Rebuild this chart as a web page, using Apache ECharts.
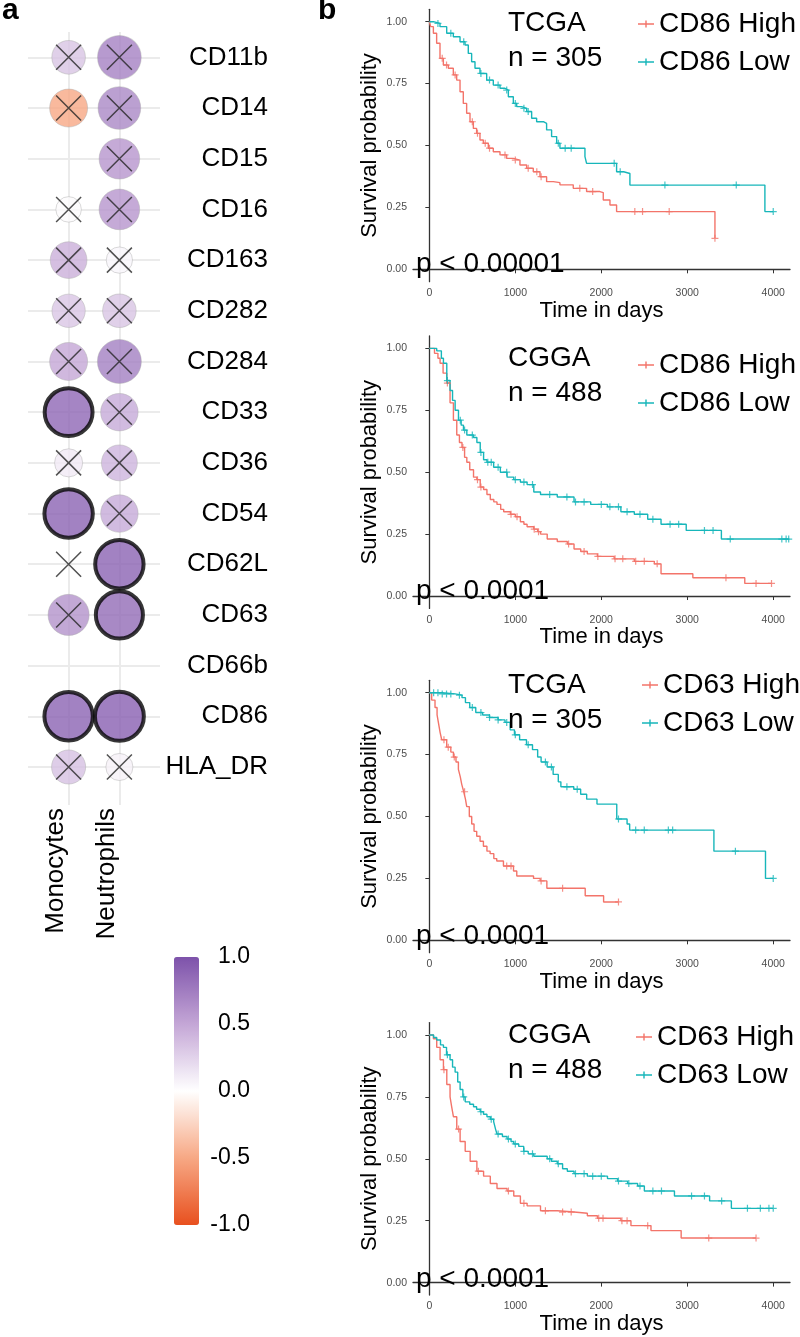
<!DOCTYPE html>
<html>
<head>
<meta charset="utf-8">
<script src="https://cdn.jsdelivr.net/npm/echarts@6/dist/echarts.min.js"></script>
<style>
html,body{margin:0;padding:0;background:#fff;}
#chart{width:800px;height:1337px;}
</style>
</head>
<body>
<div id="chart"></div>
<script>
// ---------------- DATA ----------------
const genes = ['CD11b','CD14','CD15','CD16','CD163','CD282','CD284','CD33','CD36','CD54','CD62L','CD63','CD66b','CD86','HLA_DR'];
const cells = ['Monocytes','Neutrophils'];
// correlation (null = no circle)
const monoCorr = [0.33,-0.5,null,0.02,0.45,0.32,0.5,0.88,0.12,0.9,null,0.62,null,0.9,0.35];
const neuCorr  = [0.72,0.68,0.6,0.6,0.05,0.33,0.73,0.48,0.42,0.48,0.9,0.85,null,0.92,0.08];
// significance: 1 = significant (bold ring), 0 = not significant (cross), null = not tested
const monoSig = [0,0,null,0,0,0,0,1,0,1,0,0,null,1,0];
const neuSig  = [0,0,0,0,0,0,0,0,0,0,1,1,null,1,0];
const colorbarTicks = [-1,-0.5,0,0.5,1];

const timeTicks = [0,1000,2000,3000,4000];
const probTicks = [0,0.25,0.5,0.75,1];
const cohortLabels = ['TCGA\nn = 305','CGGA\nn = 488','TCGA\nn = 305','CGGA\nn = 488'];
const pLabels = ['p < 0.00001','p < 0.0001','p < 0.0001','p < 0.0001'];
const groupNames = [['CD86 High','CD86 Low'],['CD86 High','CD86 Low'],['CD63 High','CD63 Low'],['CD63 High','CD63 Low']];

// Panel 1: TCGA CD86
const tcga86High = [[0,1],[16,0.98],[47,0.953],[85,0.913],[124,0.852],[163,0.825],[221,0.812],[279,0.785],[318,0.764],[357,0.717],[395,0.67],[434,0.63],[473,0.596],[512,0.569],[550,0.549],[589,0.522],[628,0.509],[686,0.489],[744,0.475],[822,0.462],[899,0.448],[977,0.441],[1054,0.421],[1132,0.408],[1209,0.394],[1287,0.374],[1364,0.354],[1442,0.35],[1519,0.341],[1674,0.327],[1829,0.314],[1984,0.31],[2023,0.28],[2101,0.26],[2178,0.233],[3322,0.125]];
const tcga86Low = [[0,1],[47,0.993],[124,0.98],[202,0.953],[279,0.939],[357,0.919],[415,0.906],[453,0.872],[492,0.838],[531,0.812],[589,0.791],[667,0.764],[744,0.744],[822,0.731],[880,0.724],[919,0.697],[977,0.67],[1016,0.657],[1074,0.65],[1132,0.637],[1190,0.61],[1248,0.596],[1326,0.589],[1364,0.563],[1422,0.536],[1481,0.509],[1519,0.489],[1810,0.455],[1829,0.428],[2178,0.394],[2260,0.387],[2333,0.34],[3903,0.233],[4000,0.233]];
const tcga86HighCens = [[150,0.852],[200,0.825],[300,0.785],[500,0.596],[560,0.549],[650,0.509],[700,0.489],[880,0.462],[1000,0.441],[1150,0.408],[1250,0.394],[1300,0.374],[1750,0.327],[1900,0.314],[2390,0.233],[2480,0.233],[2790,0.233],[3322,0.125]];
const tcga86LowCens = [[100,0.993],[250,0.953],[400,0.919],[600,0.791],[700,0.764],[800,0.744],[900,0.724],[1000,0.67],[1100,0.65],[1150,0.637],[1500,0.509],[1580,0.489],[1650,0.489],[2150,0.428],[2220,0.394],[2740,0.34],[3570,0.34],[4000,0.233]];

// Panel 2: CGGA CD86
const cgga86High = [[0,1],[60,0.98],[100,0.96],[125,0.94],[160,0.90],[203,0.86],[241,0.78],[280,0.71],[319,0.65],[350,0.62],[380,0.60],[410,0.56],[436,0.54],[470,0.51],[514,0.48],[553,0.47],[592,0.44],[631,0.43],[670,0.41],[709,0.39],[750,0.38],[787,0.37],[830,0.35],[865,0.34],[943,0.33],[1000,0.32],[1059,0.30],[1100,0.29],[1137,0.28],[1215,0.27],[1260,0.26],[1293,0.25],[1371,0.23],[1488,0.22],[1605,0.21],[1683,0.19],[1761,0.18],[1838,0.17],[1955,0.16],[2150,0.15],[2384,0.14],[2617,0.13],[2695,0.09],[3065,0.074],[3669,0.051],[3980,0.051]];
const cgga86Low = [[0,1],[86,0.99],[140,0.96],[164,0.94],[203,0.87],[241,0.83],[270,0.79],[300,0.75],[339,0.71],[370,0.69],[397,0.67],[436,0.65],[514,0.64],[553,0.62],[592,0.58],[631,0.55],[670,0.54],[748,0.52],[826,0.50],[904,0.48],[982,0.47],[1059,0.46],[1137,0.45],[1215,0.42],[1293,0.41],[1488,0.40],[1683,0.38],[1877,0.37],[2072,0.36],[2228,0.34],[2384,0.33],[2540,0.31],[2695,0.29],[2988,0.265],[3397,0.23],[4180,0.23]];
const cgga86HighCens = [[210,0.86],[390,0.60],[560,0.47],[600,0.44],[950,0.33],[1020,0.32],[1220,0.27],[1270,0.26],[1620,0.21],[1800,0.18],[1960,0.16],[2160,0.15],[2250,0.15],[2400,0.14],[2500,0.14],[2650,0.13],[3450,0.074],[3800,0.051],[3980,0.051]];
const cgga86LowCens = [[210,0.87],[360,0.71],[410,0.67],[500,0.65],[600,0.58],[680,0.54],[720,0.54],[800,0.52],[900,0.50],[1000,0.47],[1100,0.46],[1200,0.45],[1400,0.41],[1600,0.40],[1700,0.38],[1800,0.38],[2000,0.37],[2100,0.36],[2200,0.36],[2300,0.34],[2450,0.33],[2600,0.31],[2800,0.29],[2900,0.29],[3200,0.265],[3300,0.265],[3500,0.23],[4100,0.23],[4150,0.23],[4180,0.23]];

// Panel 3: TCGA CD63
const tcga63High = [[0,1],[27,0.97],[66,0.94],[90,0.91],[105,0.88],[125,0.84],[144,0.81],[202,0.78],[250,0.76],[280,0.74],[310,0.72],[338,0.69],[360,0.66],[377,0.63],[400,0.60],[420,0.57],[435,0.54],[465,0.50],[493,0.47],[520,0.44],[551,0.42],[590,0.40],[629,0.38],[670,0.36],[707,0.35],[750,0.33],[784,0.32],[862,0.30],[979,0.28],[1017,0.26],[1212,0.25],[1289,0.24],[1367,0.21],[1813,0.18],[2027,0.155],[2200,0.155]];
const tcga63Low = [[0,1],[150,0.995],[300,0.99],[380,0.98],[420,0.96],[470,0.94],[540,0.92],[620,0.91],[700,0.90],[800,0.89],[880,0.88],[940,0.85],[990,0.83],[1050,0.81],[1130,0.79],[1200,0.77],[1260,0.74],[1300,0.72],[1370,0.70],[1440,0.67],[1500,0.64],[1530,0.62],[1680,0.61],[1760,0.59],[1830,0.57],[1950,0.55],[2180,0.49],[2300,0.47],[2330,0.445],[3310,0.36],[3910,0.25],[4000,0.25]];
const tcga63HighCens = [[170,0.81],[220,0.78],[290,0.74],[410,0.60],[900,0.30],[950,0.30],[1300,0.24],[1550,0.21],[2200,0.155]];
const tcga63LowCens = [[50,1],[100,1],[150,0.995],[200,0.995],[250,0.995],[350,0.99],[500,0.94],[600,0.92],[700,0.90],[800,0.89],[900,0.88],[1000,0.83],[1150,0.79],[1350,0.72],[1420,0.70],[1600,0.62],[1720,0.61],[2200,0.49],[2400,0.445],[2500,0.445],[2780,0.445],[2830,0.445],[3560,0.36],[4000,0.25]];

// Panel 4: CGGA CD63
const cgga63High = [[0,1],[47,0.985],[86,0.95],[125,0.90],[164,0.86],[203,0.80],[241,0.75],[260,0.71],[280,0.67],[319,0.62],[358,0.57],[417,0.53],[475,0.49],[553,0.45],[631,0.43],[709,0.40],[787,0.38],[904,0.37],[982,0.35],[1059,0.32],[1137,0.31],[1293,0.29],[1488,0.285],[1683,0.28],[1838,0.27],[1955,0.26],[2228,0.25],[2345,0.23],[2578,0.21],[2929,0.18],[3800,0.18]];
const cgga63Low = [[0,1],[50,0.99],[86,0.98],[130,0.96],[164,0.95],[200,0.92],[241,0.90],[270,0.87],[300,0.85],[330,0.81],[358,0.78],[390,0.75],[417,0.73],[470,0.72],[514,0.71],[550,0.70],[592,0.69],[630,0.68],[670,0.67],[710,0.66],[748,0.65],[770,0.62],[787,0.60],[850,0.59],[904,0.58],[950,0.57],[982,0.56],[1040,0.55],[1098,0.53],[1150,0.52],[1215,0.51],[1371,0.50],[1420,0.49],[1488,0.48],[1550,0.46],[1605,0.45],[1683,0.44],[1838,0.43],[2072,0.42],[2189,0.41],[2306,0.40],[2423,0.39],[2501,0.37],[2851,0.35],[3260,0.33],[3513,0.30],[4000,0.30]];
const cgga63HighCens = [[170,0.86],[340,0.62],[570,0.45],[920,0.37],[1100,0.32],[1350,0.29],[1550,0.285],[1650,0.285],[1970,0.26],[2020,0.26],[2240,0.25],[2300,0.25],[2540,0.23],[3250,0.18],[3800,0.18]];
const cgga63LowCens = [[210,0.92],[400,0.75],[600,0.69],[720,0.66],[800,0.60],[920,0.58],[1000,0.56],[1100,0.53],[1200,0.52],[1400,0.50],[1500,0.48],[1700,0.44],[1800,0.44],[1900,0.43],[2000,0.43],[2200,0.41],[2320,0.40],[2450,0.39],[2600,0.37],[2700,0.37],[3050,0.35],[3200,0.35],[3400,0.33],[3700,0.30],[3850,0.30],[3950,0.30],[4000,0.30]];

// ---------------- BUILD ----------------
const FONT = "'Liberation Sans', Arial, Helvetica, sans-serif";
const RED = '#F3746A', TEAL = '#17B6BA';
const curves = [
  [tcga86High, tcga86Low, tcga86HighCens, tcga86LowCens],
  [cgga86High, cgga86Low, cgga86HighCens, cgga86LowCens],
  [tcga63High, tcga63Low, tcga63HighCens, tcga63LowCens],
  [cgga63High, cgga63Low, cgga63HighCens, cgga63LowCens]
];
const kmTops = [9.3, 336, 680.3, 1022.6];
const kmH = 272.4;
const titleTops = [6, 341, 668, 1018];
const pTops = [250, 577, 922, 1265];
const legendTops = [9, 350, 670, 1022];
const legendLefts = [638, 638, 642, 636];

const corrs = [monoCorr, neuCorr];
const sigs = [monoSig, neuSig];
const circleData = [], crossData = [];
cells.forEach((c, ci) => {
  genes.forEach((g, gi) => {
    const r = corrs[ci][gi], s = sigs[ci][gi];
    if (r !== null) {
      circleData.push({
        value: [ci + 1, gi, r],
        symbolSize: 25 + 26 * Math.abs(r),
        itemStyle: s === 1 ? {borderColor: '#050505', borderWidth: 4} : {borderColor: 'rgba(170,170,170,0.55)', borderWidth: 1}
      });
    }
    if (s === 0) crossData.push([ci + 1, gi]);
  });
});

const grids = [{left: 28, width: 132, top: 32, height: 773}];
const xAxes = [{
  gridIndex: 0, type: 'value', min: 0.2, max: 2.8,
  axisLine: {show: false}, axisTick: {show: false}, splitLine: {show: false},
  axisLabel: {customValues: cells.map((c, i) => i + 1), formatter: v => cells[Math.round(v) - 1], rotate: 90,
    fontSize: 26, color: '#000', fontFamily: FONT, margin: 3, verticalAlign: 'bottom'}
}];
const yAxes = [{
  gridIndex: 0, type: 'value', inverse: true, min: -0.5, max: 14.75, position: 'right',
  axisLine: {show: false}, axisTick: {show: false}, splitLine: {show: false},
  axisLabel: {customValues: genes.map((g, i) => i), formatter: v => genes[Math.round(v)],
    fontSize: 26, color: '#000', fontFamily: FONT, align: 'right', margin: 108}
}];

const series = [
  {type: 'scatter', xAxisIndex: 0, yAxisIndex: 0, data: [], z: 1, silent: true,
   markLine: {silent: true, symbol: 'none', animation: false, label: {show: false},
     lineStyle: {color: '#ebebeb', width: 2, type: 'solid'},
     data: genes.map((g, i) => ({yAxis: i})).concat(cells.map((c, i) => ({xAxis: i + 1})))}},
  {type: 'scatter', xAxisIndex: 0, yAxisIndex: 0, data: circleData, zlevel: 1, z: 2, silent: true},
  {type: 'scatter', xAxisIndex: 0, yAxisIndex: 0, data: crossData, zlevel: 1, z: 3, silent: true,
   symbol: 'path://M0,0 L10,10 M10,0 L0,10', symbolSize: 25,
   itemStyle: {color: 'rgba(0,0,0,0)', borderColor: '#262626', borderWidth: 1.5}}
];

const plusIcon = 'path://M0,3.8 L16,3.8 L16,5.2 L0,5.2 Z M7.3,1 L8.7,1 L8.7,8 L7.3,8 Z';
const legends = [];
const titles = [
  {text: 'a', left: 2, top: -4, padding: 0, textStyle: {fontSize: 30, fontWeight: 'bold', color: '#000', fontFamily: FONT}},
  {text: 'b', left: 318, top: -4, padding: 0, textStyle: {fontSize: 30, fontWeight: 'bold', color: '#000', fontFamily: FONT}}
];

curves.forEach((cv, k) => {
  const gi = k + 1;
  grids.push({left: 413, width: 377, top: kmTops[k], height: kmH});
  xAxes.push({
    gridIndex: gi, type: 'value', min: -190, max: 4195,
    axisLine: {lineStyle: {color: '#333', width: 1.3}},
    axisTick: {customValues: timeTicks, length: 4, lineStyle: {color: '#333'}},
    axisLabel: {customValues: timeTicks, formatter: v => String(v), fontSize: 10.5, color: '#4d4d4d', fontFamily: FONT, margin: 6},
    splitLine: {show: false},
    name: 'Time in days', nameLocation: 'middle', nameGap: 17,
    nameTextStyle: {fontSize: 22, color: '#000', fontFamily: FONT}
  });
  yAxes.push({
    gridIndex: gi, type: 'value', min: -0.05, max: 1.05,
    axisLine: {lineStyle: {color: '#333', width: 1.3}},
    axisTick: {customValues: probTicks, length: 4, lineStyle: {color: '#333'}},
    axisLabel: {customValues: probTicks, formatter: v => v.toFixed(2), fontSize: 10.5, color: '#4d4d4d', fontFamily: FONT, margin: 6},
    splitLine: {show: false},
    name: 'Survival probability', nameLocation: 'middle', nameGap: 32,
    nameTextStyle: {fontSize: 22, color: '#000', fontFamily: FONT}
  });
  const names = groupNames[k];
  [0, 1].forEach(j => {
    const col = j === 0 ? RED : TEAL;
    series.push({type: 'line', name: names[j], xAxisIndex: gi, yAxisIndex: gi, data: cv[j], step: 'end',
      showSymbol: false, symbol: 'none', silent: true, z: 2,
      lineStyle: {color: col, width: 1.4}, itemStyle: {color: col}});
    series.push({type: 'scatter', name: names[j], xAxisIndex: gi, yAxisIndex: gi, data: cv[j + 2],
      symbol: 'path://M5,0 L5,10 M0,5 L10,5', symbolSize: 7, silent: true, z: 3,
      itemStyle: {color: 'rgba(0,0,0,0)', borderColor: col, borderWidth: 1.2}});
  });
  legends.push({
    data: [{name: names[0], icon: plusIcon, itemStyle: {color: RED}}, {name: names[1], icon: plusIcon, itemStyle: {color: TEAL}}],
    orient: 'vertical', left: legendLefts[k], top: legendTops[k], padding: 0, itemWidth: 16, itemHeight: 9, itemGap: 8,
    selectedMode: false,
    textStyle: {fontSize: 28, color: '#000', fontFamily: FONT, lineHeight: 30}
  });
  titles.push({text: cohortLabels[k], left: 508, top: titleTops[k], padding: 0,
    textStyle: {fontSize: 28, fontWeight: 'normal', color: '#000', fontFamily: FONT, lineHeight: 35}});
  titles.push({text: pLabels[k], left: 416, top: pTops[k], padding: 0,
    textStyle: {fontSize: 28, fontWeight: 'normal', color: '#000', fontFamily: FONT, lineHeight: 28}});
});

// colorbar label axis
grids.push({left: 174, width: 25, top: 957, height: 268});
xAxes.push({gridIndex: 5, type: 'value', show: false});
yAxes.push({gridIndex: 5, type: 'value', min: -1, max: 1, interval: 0.5, position: 'right',
  axisLine: {show: false}, axisTick: {show: false}, splitLine: {show: false},
  axisLabel: {formatter: v => v.toFixed(1), fontSize: 23, color: '#000', fontFamily: FONT, align: 'right', margin: 51}});
series.push({type: 'scatter', xAxisIndex: 5, yAxisIndex: 5, data: [], silent: true});

const option = {
  animation: false,
  backgroundColor: '#fff',
  textStyle: {fontFamily: FONT},
  title: titles,
  legend: legends,
  grid: grids,
  xAxis: xAxes,
  yAxis: yAxes,
  visualMap: [{
    type: 'continuous', min: colorbarTicks[0], max: colorbarTicks[colorbarTicks.length - 1],
    seriesIndex: 1, dimension: 2, orient: 'vertical',
    left: 174, top: 957, itemWidth: 25, itemHeight: 268, padding: 0,
    calculable: false, hoverLink: false, text: null, showLabel: false,
    inRange: {color: ['#E8501F', '#F7A884', '#FFFFFF', '#C4A6D6', '#7D52AA']}
  }],
  series: series
};
const chart = echarts.init(document.getElementById('chart'), null, {renderer: 'canvas'});
chart.setOption(option);
</script>
</body>
</html>
